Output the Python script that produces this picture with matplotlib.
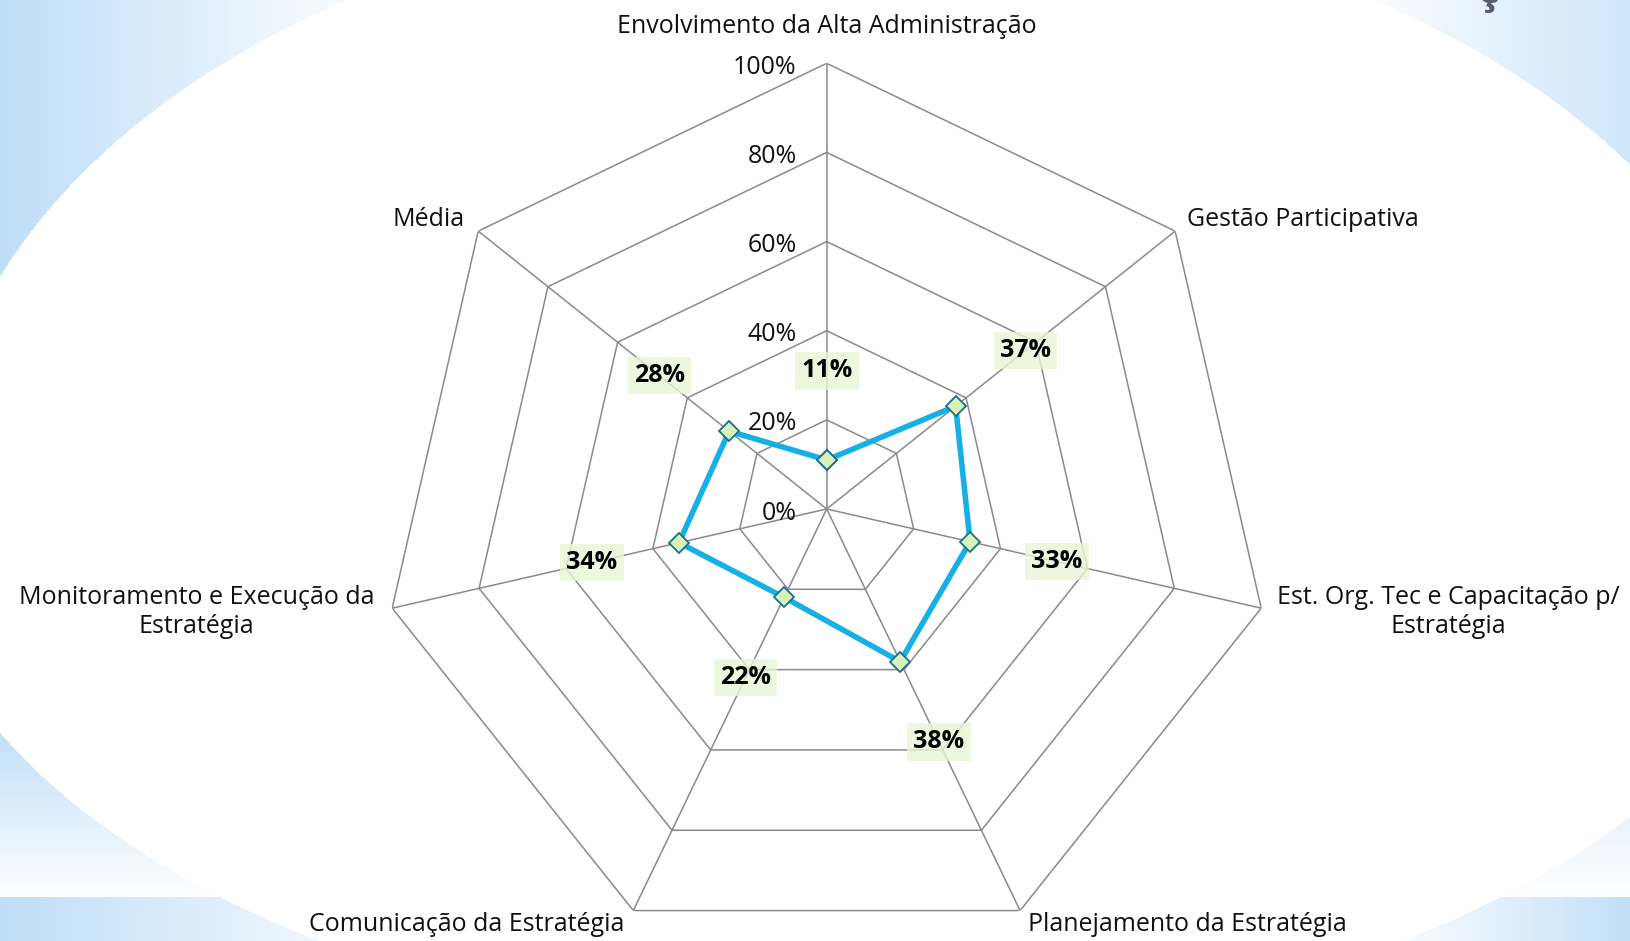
import numpy as np
import matplotlib
matplotlib.use("Agg")
import matplotlib.pyplot as plt

categories = [
    "Envolvimento da Alta Administração",
    "Gestão Participativa",
    "Est. Org. Tec e Capacitação p/\nEstratégia",
    "Planejamento da Estratégia",
    "Comunicação da Estratégia",
    "Monitoramento e Execução da\nEstratégia",
    "Média",
]
values = [0.11, 0.37, 0.33, 0.38, 0.22, 0.34, 0.28]
value_labels = ["11%", "37%", "33%", "38%", "22%", "34%", "28%"]
ring_levels = [0.0, 0.2, 0.4, 0.6, 0.8, 1.0]
ring_labels = ["0%", "20%", "40%", "60%", "80%", "100%"]

plt.rcParams['font.family'] = ['Open Sans', 'DejaVu Sans']

W, H = 1630, 941
fig = plt.figure(figsize=(W / 100, H / 100), dpi=100)

# background: white oval over soft blue corners
yy, xx = np.mgrid[0:H, 0:W].astype(float)
top = yy < 495
semi_a = np.where(top, 925.0, 958.0)
semi_b = np.where(top, 596.0, 540.0)
inside = ((xx - 860) / semi_a) ** 2 + ((yy - 495) / semi_b) ** 2 <= 1
left = xx < 860
t = np.zeros((H, W))
t = np.where(top & left, np.clip(1 - xx / 380, 0, 1), t)
t = np.where(top & ~left, np.clip((xx - 1340) / 290, 0, 1) * 0.75, t)
mid = (~top) & (yy < 897)
t = np.where(mid & left, np.clip((897 - yy) / 170, 0, 1), t)
t = np.where(mid & ~left, np.clip((897 - yy) / 170, 0, 1) * 0.8, t)
band = yy >= 897
t = np.where(band & left, np.clip(1 - xx / 420, 0, 1), t)
t = np.where(band & ~left, np.clip((xx - 1380) / 250, 0, 1) * 0.95, t)
t[inside] = 0
blue = np.array([0.75, 0.87, 0.97])
img = 1 - t[..., None] * (1 - blue)

bg = fig.add_axes([0, 0, 1, 1])
bg.imshow(img, aspect='auto', interpolation='bilinear')
bg.axis('off')

# clipped title glyph at the very top
fig.text(1477 / W, 1 - 3 / H, "ç", fontsize=30, fontweight='bold',
         color='#565b73', ha='left', va='baseline')

# radar axes
cx, cy, R = 826.7, 509.0, 445.7
ax = fig.add_axes([(cx - R) / W, (H - cy - R) / H, 2 * R / W, 2 * R / H],
                  projection='polar')
ax.patch.set_alpha(0)
ax.set_theta_zero_location('N')
ax.set_theta_direction(-1)
ax.set_ylim(0, 1)
ax.grid(False)
ax.spines['polar'].set_visible(False)
ax.set_xticks([])
ax.set_yticks([])

n = len(categories)
angles = np.arange(n) * 2 * np.pi / n
closed = np.append(angles, angles[0])

grid_color = '#8a8a8a'
for lvl in ring_levels[1:]:
    ax.plot(closed, [lvl] * (n + 1), color=grid_color, lw=1.1, zorder=1)
for a in angles:
    ax.plot([a, a], [0, 1], color=grid_color, lw=1.1, zorder=1)

ax.plot(closed, values + values[:1], color='#14b0e6', lw=4.0, zorder=3,
        marker='D', markersize=10.5, markerfacecolor='#d9f0b8',
        markeredgecolor='#1b6e8e', markeredgewidth=1.3)

for a, v, lbl in zip(angles, values, value_labels):
    ax.text(a, v + 0.2, lbl, ha='center', va='center', fontsize=18,
            fontweight='bold', color='black', zorder=4,
            bbox=dict(boxstyle='square,pad=0.25', fc='#e8f5d6', ec='none', alpha=0.8))

for lvl, lbl in zip(ring_levels, ring_labels):
    ax.annotate(lbl, xy=(0, lvl), xytext=(-30, -4), textcoords='offset pixels',
                ha='right', va='center', fontsize=18, color='#111111',
                annotation_clip=False)

# category labels: (dx, dy) offset in pixels from the outer vertex, alignment
placements = [
    ((0, 37), 'center'),
    ((12, 12), 'left'),
    ((16, -4), 'left'),
    ((8, -14), 'left'),
    ((-9, -14), 'right'),
    ((-18, -4), 'right'),
    ((-14, 12), 'right'),
]
for a, name, (off, ha) in zip(angles, categories, placements):
    ax.annotate(name, xy=(a, 1.0), xytext=off, textcoords='offset pixels',
                ha=ha, va='center', multialignment='center', fontsize=18,
                color='#111111', annotation_clip=False, linespacing=1.2)

fig.savefig('out.png', dpi=100)
